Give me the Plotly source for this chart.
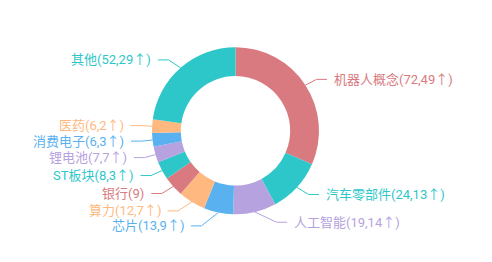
import math
import plotly.graph_objects as go

# ---- data ----
names = ["机器人概念", "汽车零部件", "人工智能", "芯片", "算力", "银行",
         "ST板块", "锂电池", "消费电子", "医药", "其他"]
values = [72, 24, 19, 13, 12, 9, 8, 7, 6, 6, 52]
ups = [49, 13, 14, 9, 7, None, 3, 7, 3, 2, 29]
colors = ["#d87a80", "#2ec7c9", "#b6a2de", "#5ab1ef", "#ffb980", "#d87a80",
          "#2ec7c9", "#b6a2de", "#5ab1ef", "#ffb980", "#2ec7c9"]

labels = [f"{n}({v},{u}↑)" if u is not None else f"{n}({v})"
          for n, v, u in zip(names, values, ups)]

# ---- layout geometry (pixels) ----
W, H = 492, 262
cx, cy = 235.5, 130.8
R = 83.5
hole = 0.655
len1, len2, gap = 10.5, 10.5, 5
S = R + len1 + len2 + 0.5
lab_h = 15
FONT = "Roboto, 'Noto Sans CJK SC', sans-serif"

fig = go.Figure(go.Pie(
    labels=names, values=values, sort=False, direction="clockwise", rotation=0,
    hole=hole, marker=dict(colors=colors, line=dict(width=0)),
    textinfo="none", hoverinfo="skip", showlegend=False,
    domain=dict(x=[(cx - R) / W, (cx + R) / W],
                y=[(H - cy - R) / H, (H - cy + R) / H]),
))

# label layout (echarts-like)
total = sum(values)
items = []
acc = 0
for i, v in enumerate(values):
    mid = (acc + v / 2) / total * 2 * math.pi
    acc += v
    dx, dy = math.sin(mid), -math.cos(mid)
    p1 = (cx + R * dx, cy + R * dy)
    y = cy + (R + len1) * dy
    items.append(dict(i=i, p1=p1, y=y, dir=1 if dx >= 0 else -1))

for side in (1, -1):
    lst = sorted([it for it in items if it["dir"] == side], key=lambda t: t["y"])
    for k in range(1, len(lst)):
        if lst[k]["y"] - lst[k - 1]["y"] < lab_h:
            lst[k]["y"] = lst[k - 1]["y"] + lab_h
    over = lst[-1]["y"] + lab_h / 2 - H
    if over > 0:
        for it in lst:
            it["y"] -= over

def px(x):
    return x / W

def py(y):
    return 1 - y / H

shapes = []
annotations = []
for it in items:
    d = it["dir"]
    ddy = abs(it["y"] - cy)
    tx = cx + d * math.sqrt(max(S * S - ddy * ddy, 0))
    ex = tx - d * len2
    x1, y1 = it["p1"]
    path = f"M {px(x1)},{py(y1)} L {px(ex)},{py(it['y'])} L {px(tx)},{py(it['y'])}"
    col = colors[it["i"]]
    shapes.append(dict(type="path", path=path, xref="paper", yref="paper",
                       line=dict(color=col, width=1)))
    annotations.append(dict(
        x=px(tx + d * gap), y=py(it["y"]), xref="paper", yref="paper",
        text=labels[it["i"]], showarrow=False,
        xanchor="left" if d > 0 else "right", yanchor="middle",
        font=dict(size=13, color=col, family=FONT),
    ))

fig.update_layout(
    width=W, height=H, margin=dict(l=0, r=0, t=0, b=0),
    paper_bgcolor="white", plot_bgcolor="white",
    shapes=shapes, annotations=annotations,
    font=dict(family=FONT),
)
fig.write_html("out.html")
